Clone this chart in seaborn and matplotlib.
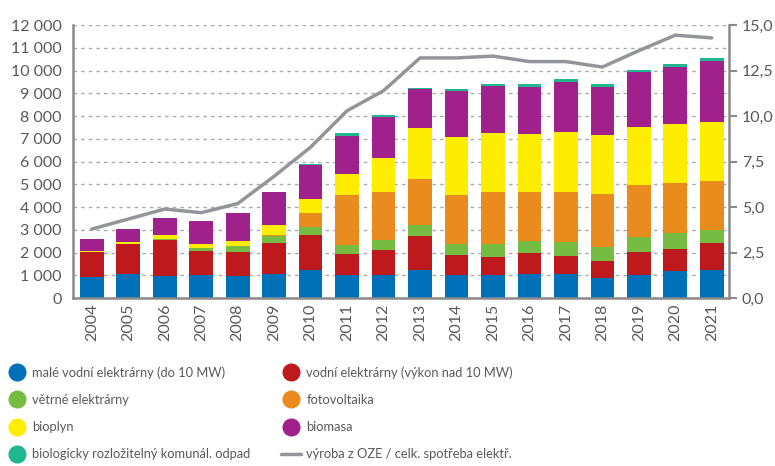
import numpy as np
import pandas as pd
import matplotlib
matplotlib.use("Agg")
import matplotlib.pyplot as plt
from matplotlib.lines import Line2D
import seaborn as sns

years = [str(y) for y in range(2004, 2022)]
male_vodni = [920, 1067, 965, 1023, 965, 1082, 1228, 1023, 1023, 1228, 1023, 1023, 1067, 1067, 877, 1023, 1184, 1228]
vodni_velke = [1097, 1315, 1578, 1038, 1052, 1330, 1549, 936, 1096, 1491, 892, 775, 921, 804, 746, 994, 965, 1184]
vetrne = [10, 10, 40, 131, 263, 307, 336, 394, 424, 482, 467, 584, 526, 599, 628, 687, 716, 599]
fotovoltaika = [0, 0, 0, 0, 0, 58, 614, 2178, 2134, 2032, 2134, 2266, 2134, 2178, 2309, 2280, 2207, 2149]
bioplyn = [60, 95, 217, 190, 234, 424, 614, 936, 1476, 2250, 2558, 2602, 2572, 2645, 2631, 2529, 2601, 2587]
biomasa = [520, 555, 716, 1009, 1213, 1447, 1505, 1680, 1827, 1696, 2017, 2090, 2076, 2207, 2105, 2411, 2485, 2659]
odpad = [10, 10, 27, 15, 15, 30, 59, 103, 74, 73, 88, 73, 103, 117, 103, 103, 132, 147]
podil_oze = [3.8, 4.35, 4.9, 4.7, 5.2, 6.7, 8.3, 10.3, 11.4, 13.2, 13.2, 13.3, 13.0, 13.0, 12.7, 13.6, 14.45, 14.3]

series = [
    ("malé vodní elektrárny (do 10 MW)", male_vodni, "#0070b8"),
    ("vodní elektrárny (výkon nad 10 MW)", vodni_velke, "#be1a1d"),
    ("větrné elektrárny", vetrne, "#76bc43"),
    ("fotovoltaika", fotovoltaika, "#ea8b1e"),
    ("bioplyn", bioplyn, "#ffed00"),
    ("biomasa", biomasa, "#a0218b"),
    ("biologicky rozložitelný komunál. odpad", odpad, "#1fb88e"),
]
line_label = "výroba z OZE / celk. spotřeba elektř."

sns.set_theme(style="white")
plt.rcParams["font.family"] = ["Lato", "DejaVu Sans"]
tick_fs, leg_fs = 11.5, 9.3
txt = "#58595b"
spine_c = "#8a8a8c"

fig = plt.figure(figsize=(7.75, 4.66), dpi=100)
ax = fig.add_axes([0.094, 0.36, 0.847, 0.586])

df = pd.DataFrame({name: vals for name, vals, _ in series}, index=years)
cum = df.cumsum(axis=1)
for name, _, color in reversed(series):
    sns.barplot(x=years, y=cum[name].values, color=color, ax=ax, width=0.65,
                saturation=1, edgecolor="none", linewidth=0, zorder=2)

ax.set_ylim(0, 12000)
ax.set_xlim(-0.52, len(years) - 0.52)
yt = np.arange(0, 12001, 1000)
ax.set_yticks(yt)
ax.set_yticklabels([f"{v:,}".replace(",", " ") for v in yt], fontsize=tick_fs, color=txt)
ax.tick_params(axis="y", length=0, pad=8)
ax.tick_params(axis="x", length=0, pad=4, labelrotation=90, labelsize=tick_fs, labelcolor=txt)
ax.yaxis.grid(True, linestyle=(0, (2.5, 3)), color="#a7a9ac", linewidth=1, zorder=0)
ax.set_axisbelow(True)
for s in ["top", "right"]:
    ax.spines[s].set_visible(False)
for s in ["left", "bottom"]:
    ax.spines[s].set_color(spine_c)
    ax.spines[s].set_linewidth(1.8)
ax.set_xlabel("")
ax.set_ylabel("")

ax2 = ax.twinx()
sns.lineplot(x=np.arange(len(years)), y=podil_oze, ax=ax2, color="#939598", linewidth=2.5, zorder=5)
ax2.set_ylim(0, 15)
rt = np.arange(0, 15.01, 2.5)
ax2.set_yticks(rt)
ax2.set_yticklabels([f"{v:.1f}".replace(".", ",") for v in rt], fontsize=tick_fs, color=txt)
ax2.tick_params(axis="y", length=6, width=1.5, color=spine_c, direction="out", pad=3)
for s in ["top", "left", "bottom"]:
    ax2.spines[s].set_visible(False)
ax2.spines["right"].set_color(spine_c)
ax2.spines["right"].set_linewidth(1.8)
ax2.grid(False)
ax2.set_ylabel("")

def circ(c):
    return Line2D([], [], marker="o", linestyle="none", markersize=12, markerfacecolor=c, markeredgecolor=c)

col1 = [series[0], series[2], series[4], series[6]]
col2 = [series[1], series[3], series[5]]
h1 = [circ(c) for _, _, c in col1]
l1 = [n for n, _, _ in col1]
h2 = [circ(c) for _, _, c in col2] + [Line2D([], [], color="#939598", linewidth=2.5)]
l2 = [n for n, _, _ in col2] + [line_label]

common = dict(frameon=False, fontsize=leg_fs, labelcolor=txt, handletextpad=0.4,
              labelspacing=1.17, borderpad=0, borderaxespad=0, handlelength=1.6)
leg1 = fig.legend(h1, l1, loc="upper left", bbox_to_anchor=(0.008, 0.214), **common)
leg2 = fig.legend(h2, l2, loc="upper left", bbox_to_anchor=(0.362, 0.214), **common)

fig.savefig("out.png", dpi=100)
